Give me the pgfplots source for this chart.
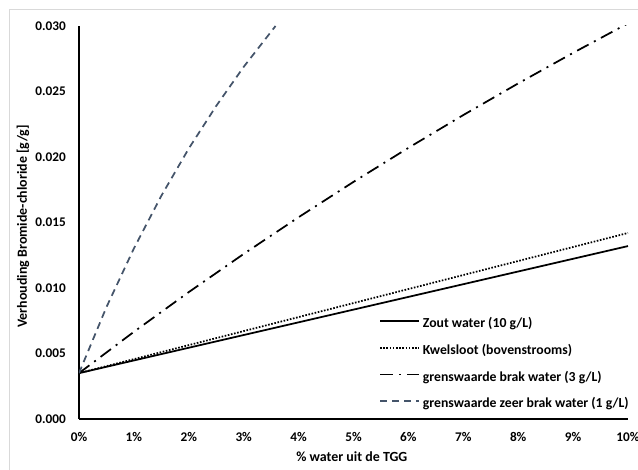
\documentclass[border=0pt]{standalone}
\usepackage{pgfplots}
\pgfplotsset{compat=1.18}
\usepackage{fontspec}
\setmainfont{Carlito}
\definecolor{zeerbrak}{HTML}{44546A}
\definecolor{framegrey}{HTML}{D9D9D9}
\begin{document}
\begin{tikzpicture}
\path[use as bounding box] (-79bp,-51bp) rectangle (559bp,419bp);
\draw[framegrey, line width=0.8bp] (-70bp,-80bp) -- (-70bp,410bp) -- (600bp,410bp);
\begin{axis}[
  at={(0,0)}, anchor=south west,
  scale only axis, width=549bp, height=393bp,
  xmin=0, xmax=10, ymin=0, ymax=0.03,
  axis lines*=left,
  axis line style={line width=2bp, black},
  major tick length=0pt,
  xtick={0,1,...,10},
  xticklabels={0\%,1\%,2\%,3\%,4\%,5\%,6\%,7\%,8\%,9\%,10\%},
  ytick={0,0.005,0.01,0.015,0.02,0.025,0.03},
  scaled y ticks=false,
  yticklabel style={/pgf/number format/fixed, /pgf/number format/fixed zerofill, /pgf/number format/precision=3},
  /pgf/number format/assume math mode=true,
  ticklabel style={font=\bfseries\fontsize{13.3}{15}\selectfont, inner sep=0pt},
  yticklabel style={anchor=east, xshift=-13bp},
  xticklabel style={anchor=north, yshift=-13bp},
  xlabel={\% water uit de TGG},
  ylabel={Verhouding Bromide-chloride [g/g]},
  label style={font=\bfseries\fontsize{14}{16}\selectfont},
  xlabel style={at={(axis description cs:0.497,-0.0967)}, anchor=center},
  ylabel style={at={(axis description cs:-0.102,0.49)}, anchor=center},
  legend cell align=left,
  legend image code/.code={\draw[#1] (0bp,3.5bp) -- (39bp,3.5bp);},
  legend style={draw=none, fill=none, at={(axis description cs:0.5464,0.2557)}, anchor=north west,
    inner sep=0pt, row sep=14.7bp, font=\bfseries\fontsize{13.8}{16}\selectfont,
    nodes={inner sep=0pt, text height=9bp, text depth=3bp},
    /tikz/every odd column/.append style={column sep=3bp}},
]
\addplot[black, line width=1.75bp] coordinates {(0,0.0035) (10,0.0132)};
\addlegendentry{Zout water (10 g/L)}
\addplot[black, line width=1.75bp, dash pattern=on 1.6bp off 1.6bp] coordinates {(0,0.0035) (10,0.0142)};
\addlegendentry{Kwelsloot (bovenstrooms)}
\addplot[black, line width=1.75bp, dash pattern=on 13bp off 6bp on 2bp off 6bp] coordinates {
(0,0.0035) (1,0.006656) (2,0.009688) (3,0.012601) (4,0.015403) (5,0.018100)
(6,0.020698) (7,0.023202) (8,0.025618) (9,0.027949) (10,0.030200)};
\addlegendentry{grenswaarde brak water (3 g/L)}
\addplot[zeerbrak, line width=1.75bp, dash pattern=on 7bp off 5bp] coordinates {
(0,0.0035) (0.5,0.00854) (1,0.01302) (1.5,0.01704) (2,0.02065) (2.5,0.0239) (3,0.02688) (3.58,0.0300)};
\addlegendentry{grenswaarde zeer brak water (1 g/L)}
\end{axis}
\end{tikzpicture}
\end{document}
